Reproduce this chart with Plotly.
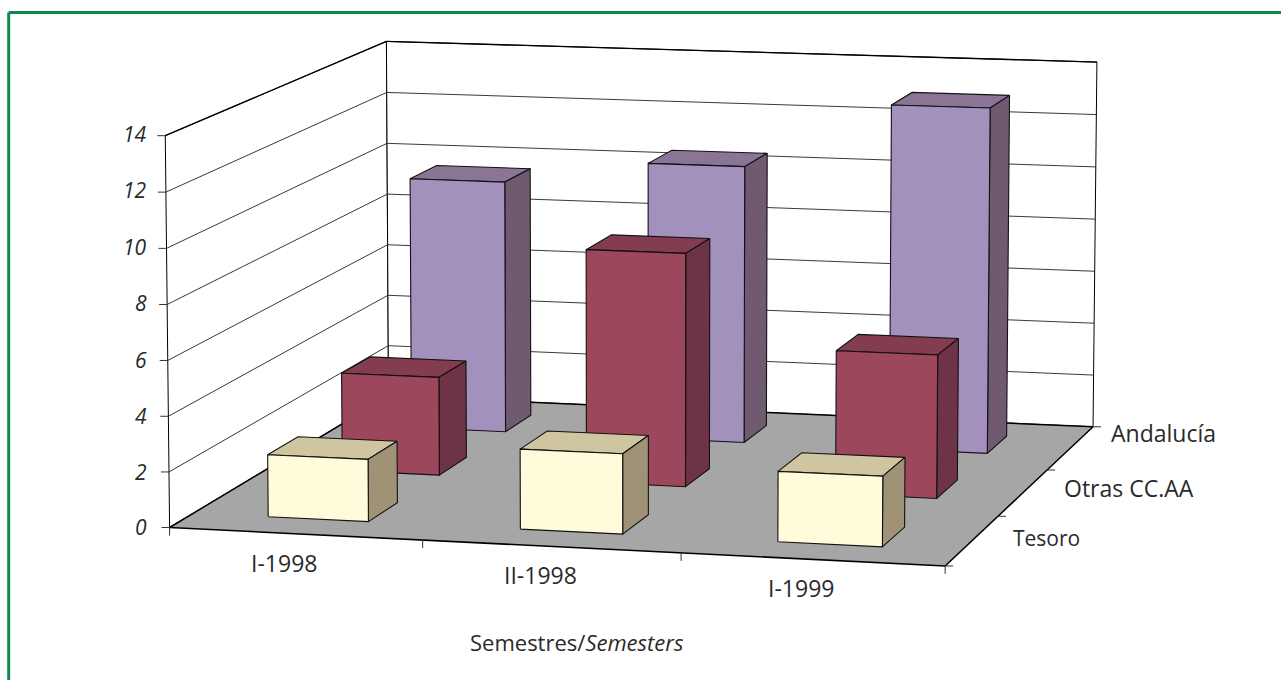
import numpy as np
import plotly.graph_objects as go

# Chart data
semesters = ["I-1998", "II-1998", "I-1999"]
sources = ["Tesoro", "Otras CC.AA", "Andalucía"]
tesoro = [2.25, 2.87, 2.5]
otras = [3.65, 8.6, 5.25]
andalucia = [9.6, 10.5, 13.0]
value_ticks = [0, 2, 4, 6, 8, 10, 12, 14]
axis_title = "Semestres/<i>Semesters</i>"

# Colours for each source: front, top and side faces
FACES = {
    "Tesoro": ("#FFFBDB", "#D0C5A1", "#A09276"),
    "Otras CC.AA": ("#9C475B", "#843C50", "#6E3346"),
    "Andalucía": ("#A391BD", "#8B7597", "#6F5A70"),
}
FLOOR = "#A6A6A6"
GREEN = "#0C8A4E"
INK = "#2A2A2A"
FONT = "Open Sans"

# Perspective camera: (category, source, value) to page pixels
CAMERA = np.array([
    [248.6286153375554, 86.87476567940192, -0.41603828616259025, 169.60193292073308],
    [6.906799146867707, -29.656693904580685, -28.073163533777436, 527.4893251004765],
    [-0.010453505728876553, 0.03578675223740132, -0.0006501183918363635, 1.0],
])
BAR_LOW, BAR_HIGH = 0.3, 0.7
N_X, N_Y, TOP = len(semesters), len(sources), value_ticks[-1]


def project(x, y, z):
    h = CAMERA @ np.array([x, y, z, 1.0])
    return h[0] / h[2], h[1] / h[2]


fig = go.Figure()


def polygon(corners, fill, outline=None, width=1.0):
    pts = [project(*c) for c in corners]
    pts.append(pts[0])
    fig.add_trace(go.Scatter(
        x=[p[0] for p in pts], y=[p[1] for p in pts], mode="lines",
        fill="toself", fillcolor=fill,
        line=dict(color=outline or fill, width=width if outline else 0),
        hoverinfo="skip", showlegend=False,
    ))


def segment(a, b, color="#000000", width=1.0, shift=(0, 0)):
    pa, pb = project(*a), project(*b)
    fig.add_trace(go.Scatter(
        x=[pa[0], pb[0] + shift[0]], y=[pa[1], pb[1] + shift[1]], mode="lines",
        line=dict(color=color, width=width), hoverinfo="skip", showlegend=False,
    ))


def label(anchor, text, dx, dy, xanchor, size):
    px, py = project(*anchor)
    fig.add_annotation(
        x=px + dx, y=py + dy, text=text, showarrow=False, xanchor=xanchor, yanchor="middle",
        font=dict(family=FONT, size=size, color=INK),
    )


# Walls with their value gridlines
polygon([(0, 0, 0), (0, N_Y, 0), (0, N_Y, TOP), (0, 0, TOP)], "#FFFFFF", "#000000")
polygon([(0, N_Y, 0), (N_X, N_Y, 0), (N_X, N_Y, TOP), (0, N_Y, TOP)], "#FFFFFF", "#000000")
for v in value_ticks[1:-1]:
    segment((0, 0, v), (0, N_Y, v), "#222222", 0.9)
    segment((0, N_Y, v), (N_X, N_Y, v), "#222222", 0.9)
segment((0, 0, TOP), (0, N_Y, TOP), "#000000", 1.3)
segment((0, N_Y, TOP), (N_X, N_Y, TOP), "#000000", 1.3)

# Floor
polygon([(0, 0, 0), (N_X, 0, 0), (N_X, N_Y, 0), (0, N_Y, 0)], FLOOR, "#000000", 1.5)

# Tick marks on the three axes
for v in value_ticks:
    segment((0, 0, v), (0, 0, v), "#333333", 1.0, shift=(-8, 0))
for i in range(N_X + 1):
    segment((i, 0, 0), (i, 0, 0), "#333333", 1.0, shift=(0, 8))
for j in range(N_Y + 1):
    segment((N_X, j, 0), (N_X, j, 0), "#333333", 1.0, shift=(8, 0))

# Bars, painted from the back row to the front row
rows = {"Tesoro": tesoro, "Otras CC.AA": otras, "Andalucía": andalucia}
for j in reversed(range(N_Y)):
    name = sources[j]
    front, top, side = FACES[name]
    y0, y1 = j + BAR_LOW, j + BAR_HIGH
    for i, val in enumerate(rows[name]):
        x0, x1 = i + BAR_LOW, i + BAR_HIGH
        polygon([(x0, y0, val), (x0, y1, val), (x1, y1, val), (x1, y0, val)], top, "#111111", 1.1)
        polygon([(x1, y0, 0), (x1, y1, 0), (x1, y1, val), (x1, y0, val)], side, "#111111", 1.1)
        polygon([(x0, y0, 0), (x1, y0, 0), (x1, y0, val), (x0, y0, val)], front, "#111111", 1.1)

# Axis labels
for v in value_ticks:
    px, py = project(0, 0, v)
    fig.add_annotation(
        x=149, y=py - 2 * v / TOP, text=f"<i>{v}</i>", showarrow=False,
        xanchor="right", yanchor="middle", font=dict(family=FONT, size=21, color=INK),
    )
for i, name in enumerate(semesters):
    label((i + 0.5, 0, 0), name, -11, 29, "center", 23)
for j, (name, dy, size) in enumerate(zip(sources, (-3, -5, -15), (21, 23, 23))):
    label((N_X, j + 0.5, 0), name, 39, dy, "left", size)

fig.add_annotation(
    x=576.5, y=642, text=axis_title, showarrow=False, xanchor="center", yanchor="middle",
    font=dict(family=FONT, size=22, color=INK),
)

# Page frame: left edge and top edge
for x0, y0, x1, y1 in [(8.7, 680, 8.7, 12.5), (8.7, 12.5, 1281, 12.5)]:
    fig.add_shape(type="line", x0=x0, y0=y0, x1=x1, y1=y1, line=dict(color=GREEN, width=3))

fig.update_layout(
    width=1281, height=680, margin=dict(l=0, r=0, t=0, b=0),
    paper_bgcolor="#FFFFFF", plot_bgcolor="#FFFFFF", showlegend=False,
    xaxis=dict(range=[0, 1281], visible=False, fixedrange=True),
    yaxis=dict(range=[680, 0], visible=False, fixedrange=True),
)
fig.write_html("out.html", config={"displayModeBar": False})
